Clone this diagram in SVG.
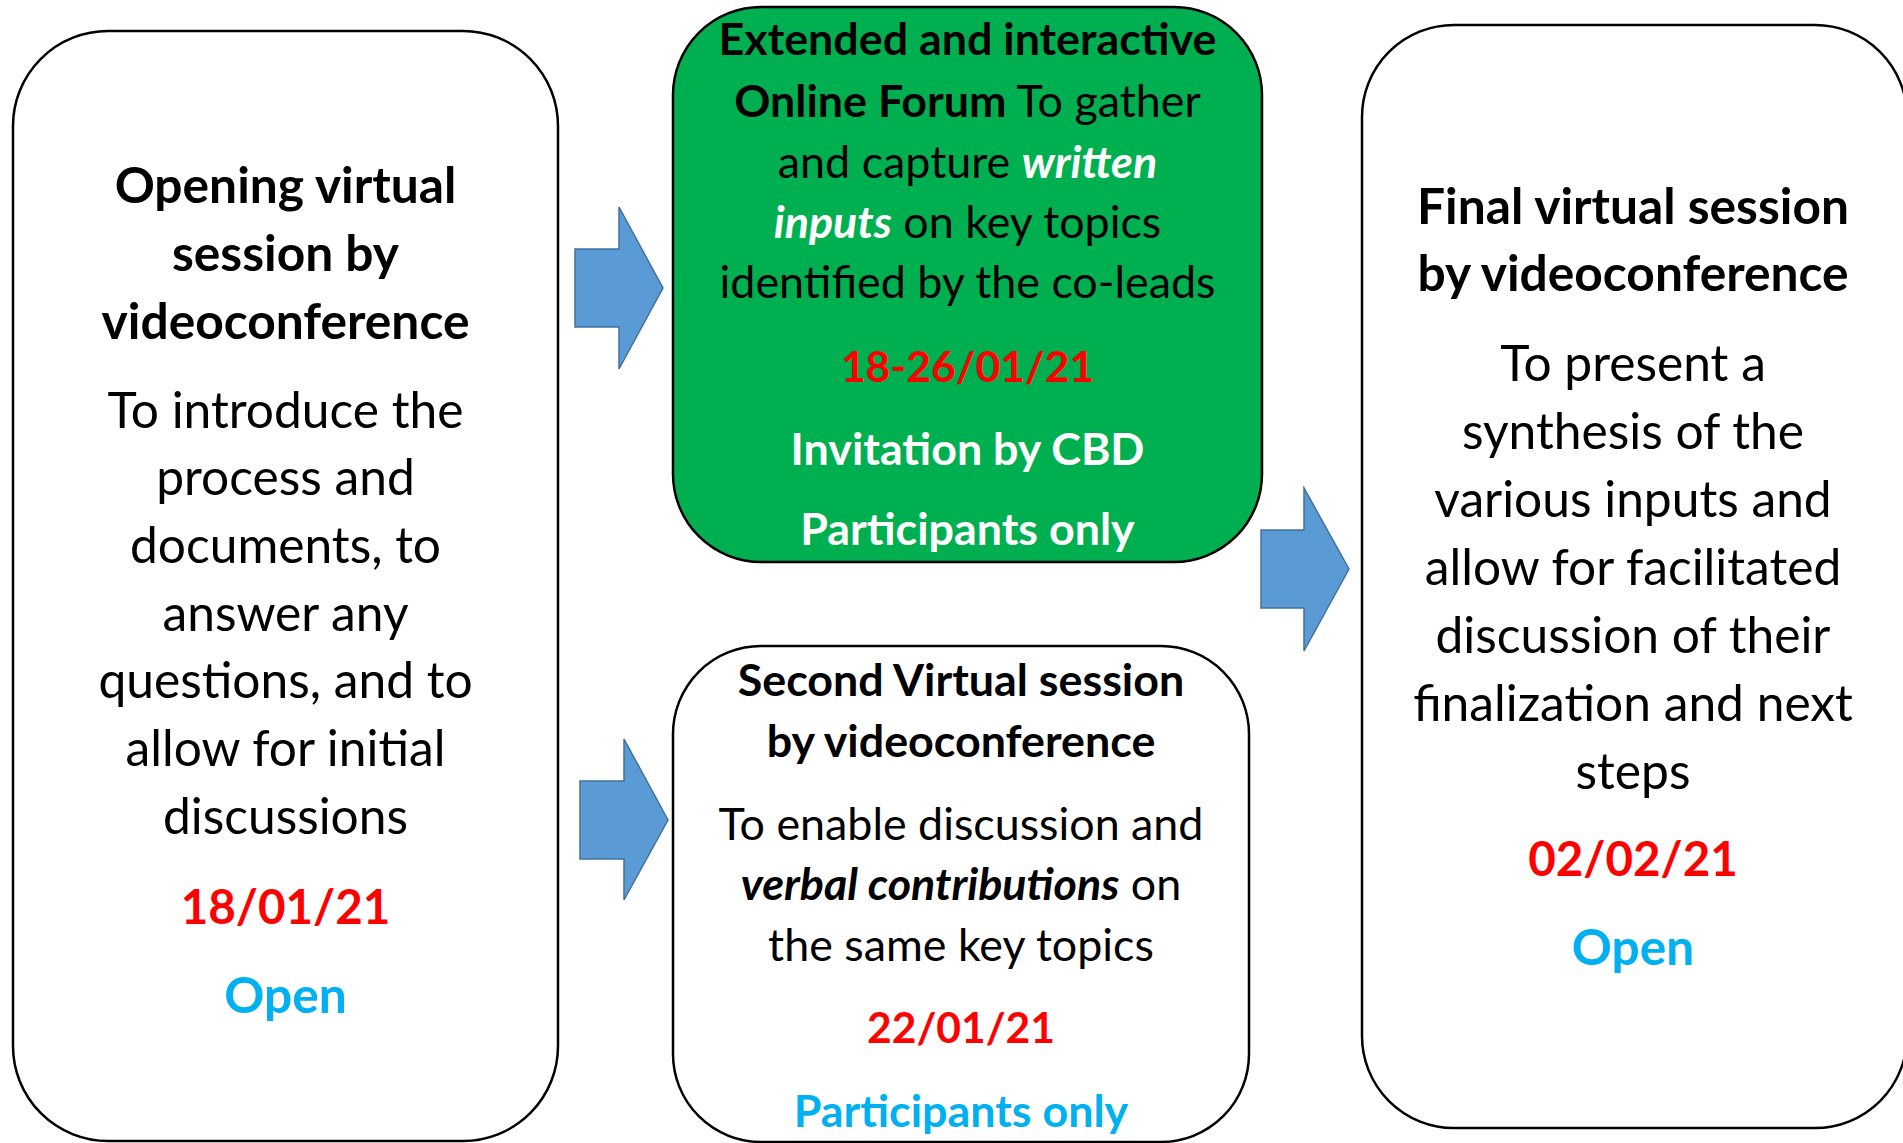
<svg xmlns="http://www.w3.org/2000/svg" width="1903" height="1143" viewBox="0 0 1903 1143">
<style>
.box{fill:#FFFFFF;stroke:#000000;stroke-width:2.5}
.green{fill:#00B050}
.arrow{fill:#5B9BD5;stroke:#41719C;stroke-width:1.5}
text{font-family:Lato,"Open Sans","Liberation Sans",sans-serif;text-anchor:middle;fill:#000000}
.b{font-weight:bold}
.bi{font-weight:bold;font-style:italic}
.red{fill:#FF0000;font-weight:bold}
.cyan{fill:#00B0F0;font-weight:bold}
.white{fill:#FFFFFF}
.L{font-size:49.7px}
.M{font-size:44.8px}
.LD{font-size:47.5px}
.MD{font-size:42.6px}
</style>
<rect width="1903" height="1143" fill="#FFFFFF"/>
<g id="connectors">
<polygon class="arrow" points="575,249 619,249 619,207 663,288 619,369 619,327 575,327"/>
<polygon class="arrow" points="580,781 624,781 624,739 668,820 624,900 624,859 580,859"/>
<polygon class="arrow" points="1261,530 1304,530 1304,488 1349,569 1304,651 1304,608 1261,608"/>
</g>
<g id="node-opening">
<rect class="box" x="13" y="31" width="545" height="1110" rx="95" ry="95"/>
<text class="L b" x="285.5" y="203">Opening virtual</text>
<text class="L b" x="285.5" y="271">session by</text>
<text class="L b" x="285.5" y="339">videoconference</text>
<text class="L" x="285.5" y="428">To introduce the</text>
<text class="L" x="285.5" y="495">process and</text>
<text class="L" x="285.5" y="563">documents, to</text>
<text class="L" x="285.5" y="631">answer any</text>
<text class="L" x="285.5" y="698">questions, and to</text>
<text class="L" x="285.5" y="766">allow for initial</text>
<text class="L" x="285.5" y="834">discussions</text>
<text class="LD red" x="285.5" y="924">18/01/21</text>
<text class="L cyan" x="285.5" y="1013">Open</text>
</g>
<g id="node-forum">
<rect class="box green" x="673" y="7" width="589" height="555" rx="88" ry="88"/>
<text class="M" x="967.5" y="55"><tspan class="b">Extended and interactive</tspan></text>
<text class="M" x="967.5" y="117"><tspan class="b">Online Forum</tspan> To gather</text>
<text class="M" x="967.5" y="178">and capture <tspan class="bi white">written</tspan></text>
<text class="M" x="967.5" y="238"><tspan class="bi white">inputs</tspan> on key topics</text>
<text class="M" x="967.5" y="298">identified by the co-leads</text>
<text class="MD red" x="967.5" y="382">18-26/01/21</text>
<text class="M b white" x="967.5" y="465">Invitation by CBD</text>
<text class="M b white" x="967.5" y="545">Participants only</text>
</g>
<g id="node-second">
<rect class="box" x="673" y="646" width="576" height="496" rx="88" ry="88"/>
<text class="M b" x="961" y="696">Second Virtual session</text>
<text class="M b" x="961" y="757">by videoconference</text>
<text class="M" x="961" y="840">To enable discussion and</text>
<text class="M" x="961" y="900"><tspan class="bi">verbal contributions</tspan> on</text>
<text class="M" x="961" y="961">the same key topics</text>
<text class="MD red" x="961" y="1043">22/01/21</text>
<text class="M cyan" x="961" y="1127">Participants only</text>
</g>
<g id="node-final">
<rect class="box" x="1362" y="25" width="545" height="1103" rx="92" ry="92"/>
<text class="L b" x="1633" y="224">Final virtual session</text>
<text class="L b" x="1633" y="291">by videoconference</text>
<text class="L" x="1633" y="381">To present a</text>
<text class="L" x="1633" y="449">synthesis of the</text>
<text class="L" x="1633" y="517">various inputs and</text>
<text class="L" x="1633" y="585">allow for facilitated</text>
<text class="L" x="1633" y="653">discussion of their</text>
<text class="L" x="1633" y="721">finalization and next</text>
<text class="L" x="1633" y="789">steps</text>
<text class="LD red" x="1633" y="876">02/02/21</text>
<text class="L cyan" x="1633" y="965">Open</text>
</g>
</svg>
